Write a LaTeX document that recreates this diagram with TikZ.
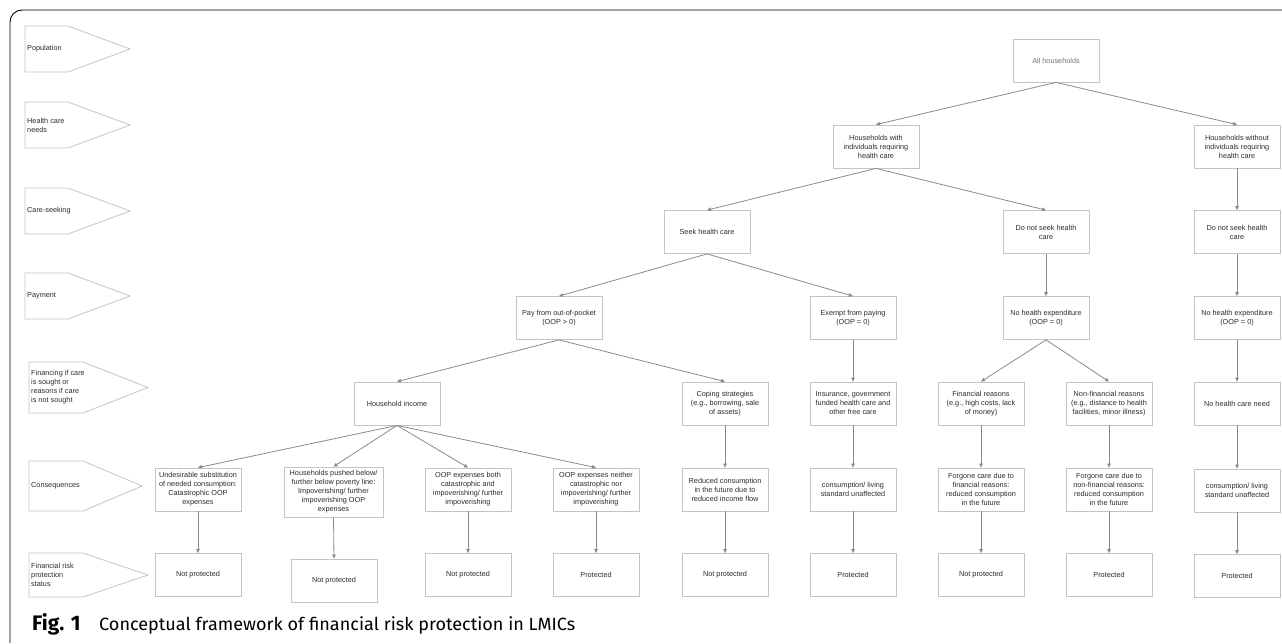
\documentclass[tikz,border=0pt]{standalone}
\usepackage{fontspec}
\setmainfont{Liberation Sans}
\newfontfamily\capfont{Fira Sans}
\usetikzlibrary{arrows.meta}
\definecolor{boxline}{HTML}{C4C4C4}
\definecolor{arrowline}{HTML}{8A8A8A}
\definecolor{txt}{HTML}{2A2A2A}
\begin{document}
\begin{tikzpicture}[x=1pt,y=-1pt,
  box/.style={draw=boxline,line width=0.8pt,minimum width=86pt,minimum height=43pt,
    inner sep=1pt,align=center,text=txt,font=\fontsize{7.3}{9}\selectfont},
  conn/.style={draw=arrowline,line width=0.8pt,-{Triangle[length=4pt,width=3.6pt]}},
  lab/.style={draw=boxline,line width=0.8pt},
  labtext/.style={anchor=west,align=left,text=txt,inner sep=0pt,font=\fontsize{7.3}{9}\selectfont}]
\useasboundingbox (0,0) rectangle (1282,643);
% frame
\draw[line width=0.9pt,rounded corners=12pt] (10,643) -- (10,10) -- (1282,10);
% row labels
\draw[lab] (25,26) -- (68,26) -- (130,49) -- (68,72) -- (25,72) -- cycle;
\node[labtext] (lpop) at (27,49) {Population};
\draw[lab] (25,102) -- (68,102) -- (130,125) -- (68,148) -- (25,148) -- cycle;
\node[labtext] (lneed) at (27,125) {Health care\\needs};
\draw[lab] (25,188) -- (68,188) -- (130,211) -- (68,234) -- (25,234) -- cycle;
\node[labtext] (lseek) at (27,211) {Care-seeking};
\draw[lab] (25,273) -- (68,273) -- (130,296) -- (68,319) -- (25,319) -- cycle;
\node[labtext] (lpay) at (27,296) {Payment};
\draw[lab] (29,362) -- (83,362) -- (148,387.5) -- (83,413) -- (29,413) -- cycle;
\node[labtext] (lfin) at (31,387.5) {Financing if care\\is sought or\\reasons if care\\is not sought};
\draw[lab] (29,461) -- (83,461) -- (142,486) -- (83,511) -- (29,511) -- cycle;
\node[labtext] (lcons) at (31,486) {Consequences};
\draw[lab] (29,553) -- (83,553) -- (148,575) -- (83,597) -- (29,597) -- cycle;
\node[labtext] (lstat) at (31,575) {Financial risk\\protection\\status};
% tree nodes
\node[box,text=black!55] (all) at (1056,60.5) {All households};
\node[box] (with) at (876,146.5) {Households with\\individuals requiring\\health care};
\node[box] (without) at (1237,146.5) {Households without\\individuals requiring\\health care};
\node[box] (seek) at (707,232) {Seek health care};
\node[box] (dnsm) at (1046,232) {Do not seek health\\care};
\node[box] (dnsr) at (1237,232) {Do not seek health\\care};
\node[box] (pay) at (559,318) {Pay from out-of-pocket\\(OOP > 0)};
\node[box] (exempt) at (853,318) {Exempt from paying\\(OOP = 0)};
\node[box] (nhem) at (1046,318) {No health expenditure\\(OOP = 0)};
\node[box] (nher) at (1237,318) {No health expenditure\\(OOP = 0)};
\node[box] (income) at (397,403.5) {Household income};
\node[box] (coping) at (725,403.5) {Coping strategies\\(e.g., borrowing, sale\\of assets)};
\node[box] (insur) at (853,403.5) {Insurance, government\\funded health care and\\other free care};
\node[box] (finr) at (981,403.5) {Financial reasons\\(e.g., high costs, lack\\of money)};
\node[box] (nonfin) at (1109,403.5) {Non-financial reasons\\(e.g., distance to health\\facilities, minor illness)};
\node[box] (noneed) at (1237,403.5) {No health care need};
\node[box] (undes) at (198,489.5) {Undesirable substitution\\of needed consumption:\\Catastrophic OOP\\expenses};
\node[box,minimum width=99pt,minimum height=50pt] (pushed) at (333.5,492) {Households pushed below/\\further below poverty line:\\Impoverishing/ further\\impoverishing OOP\\expenses};
\node[box] (both) at (468,489.5) {OOP expenses both\\catastrophic and\\impoverishing/ further\\impoverishing};
\node[box] (neither) at (596,489.5) {OOP expenses neither\\catastrophic nor\\impoverishing/ further\\impoverishing};
\node[box] (reduced) at (725,489.5) {Reduced consumption\\in the future due to\\reduced income flow};
\node[box] (cons1) at (853,489.5) {consumption/ living\\standard unaffected};
\node[box] (forgf) at (981,489.5) {Forgone care due to\\financial reasons:\\reduced consumption\\in the future};
\node[box] (forgn) at (1109,489.5) {Forgone care due to\\non-financial reasons:\\reduced consumption\\in the future};
\node[box] (cons2) at (1237,490.5) {consumption/ living\\standard unaffected};
\node[box] (np1) at (198,575) {Not protected};
\node[box] (np2) at (334,580.5) {Not protected};
\node[box] (np3) at (468,575) {Not protected};
\node[box] (pr4) at (596,575) {Protected};
\node[box] (np5) at (725,575) {Not protected};
\node[box] (pr6) at (853,575) {Protected};
\node[box] (np7) at (981,575) {Not protected};
\node[box] (pr8) at (1109,575) {Protected};
\node[box] (pr9) at (1237,576) {Protected};
% connectors
\foreach \a/\b in {all/with,all/without,with/seek,with/dnsm,without/dnsr,
  seek/pay,seek/exempt,dnsm/nhem,dnsr/nher,pay/income,pay/coping,exempt/insur,
  nhem/finr,nhem/nonfin,nher/noneed,income/undes,income/pushed,income/both,income/neither,
  coping/reduced,insur/cons1,finr/forgf,nonfin/forgn,noneed/cons2,
  undes/np1,pushed/np2,both/np3,neither/pr4,reduced/np5,cons1/pr6,forgf/np7,forgn/pr8,cons2/pr9}
  \draw[conn] (\a.south) -- (\b.north);
% caption
\node[anchor=base west,inner sep=0pt,font=\capfont\bfseries\fontsize{21}{21}\selectfont] (capfig) at (32,630) {Fig. 1};
\node[anchor=base west,inner sep=0pt] (captext) at (99,630) {\resizebox{476pt}{13.8pt}{\capfont Conceptual framework of financial risk protection in LMICs}};
\end{tikzpicture}
\end{document}
